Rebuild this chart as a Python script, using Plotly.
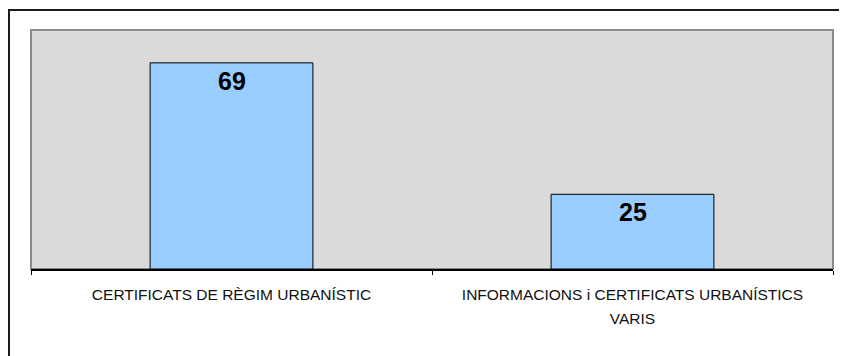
import plotly.graph_objects as go

categories = ["CERTIFICATS DE RÈGIM URBANÍSTIC",
              "INFORMACIONS i CERTIFICATS URBANÍSTICS VARIS"]
tick_lines = [["CERTIFICATS DE RÈGIM URBANÍSTIC"],
              ["INFORMACIONS i CERTIFICATS URBANÍSTICS", "VARIS"]]
values = [69, 25]

OFF = 8  # page body margin
W, H = 847 - OFF, 356 - OFF
L, R, T, B = 31 - OFF, 14, 30 - OFF, 87
pw, ph = W - L - R, H - T - B

tick_labels = ["<br>".join(f"<span style='font-size:15.5px'>{s}</span>" for s in lines)
               for lines in tick_lines]

fig = go.Figure()
fig.add_trace(go.Bar(
    x=categories, y=values, width=0.406,
    marker=dict(color="#99CCFF", line=dict(color="#000000", width=1)),
    hoverinfo="skip",
))

for c, v in zip(categories, values):
    fig.add_annotation(x=c, y=v, text=f"<b>{v}</b>", showarrow=False,
                       yanchor="top", yshift=-2,
                       font=dict(family="Liberation Sans, Arial", size=25, color="#000000"))

def px_x(p):
    return (p - L) / pw

def px_y(p):
    return (H - B - p) / ph

# outer frame
fig.add_shape(type="rect", xref="paper", yref="paper",
              x0=px_x(9 - OFF), x1=px_x(860), y0=px_y(370), y1=px_y(10 - OFF),
              line=dict(color="#1a1a1a", width=2), layer="above")
# plot area border
fig.add_shape(type="rect", xref="paper", yref="paper",
              x0=0, x1=1, y0=0, y1=1,
              line=dict(color="#8a8a8a", width=2), layer="below")

fig.update_layout(
    width=W, height=H,
    margin=dict(l=L, r=R, t=T, b=B),
    paper_bgcolor="#FFFFFF",
    plot_bgcolor="#DADADA",
    showlegend=False,
    font=dict(family="Liberation Sans, Arial", color="#111111"),
)
fig.update_xaxes(
    tickmode="array", tickvals=categories, ticktext=tick_labels,
    tickson="boundaries", ticks="outside", ticklen=4, tickcolor="#000000", tickwidth=1,
    showline=True, linecolor="#000000", linewidth=1.5,
    showgrid=False, tickfont=dict(size=19, color="#111111"),
    ticklabelstandoff=6,
)
fig.update_yaxes(range=[0, 80], visible=False, showgrid=False)

fig.write_html("out.html")
